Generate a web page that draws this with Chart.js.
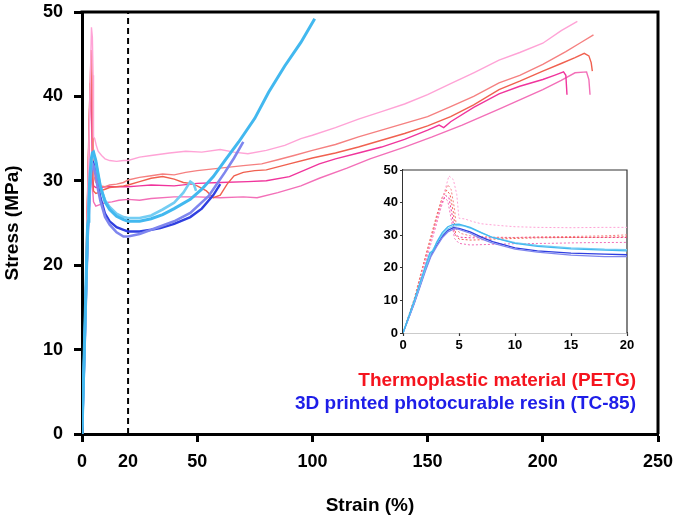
<!DOCTYPE html>
<html>
<head>
<meta charset="utf-8">
<script src="https://cdn.jsdelivr.net/npm/chart.js"></script>
<style>
  body { margin: 0; background: #fff; }
  #wrap { position: relative; width: 676px; height: 520px; }
  #mainChart { position: absolute; left: 0; top: 0; }
  #insetChart { position: absolute; left: 370px; top: 160px; }
</style>
</head>
<body>
<div id="wrap">
  <canvas id="mainChart" width="676" height="520"></canvas>
  <canvas id="insetChart" width="265" height="200"></canvas>
</div>
<script>
// tick labels
const xTicks = [0, 20, 50, 100, 150, 200, 250];
const insetXTicks = [0, 5, 10, 15, 20];
const refLineX = 20;

// PETG curves (strain %, stress MPa)
const petgAStrain = [0, 1, 2, 3, 3.6, 4.1, 4.5, 4.8, 5.0, 5.5, 6.2, 7, 8.5, 10, 12, 15, 18, 20, 25, 30, 38, 45, 52, 60, 66, 72, 80, 88, 95, 100, 110, 120, 130, 140, 150, 160, 170, 181, 190, 200, 208, 215];
const petgAStress = [0, 9.5, 22, 34, 42, 48.2, 47.0, 42.5, 35.2, 35.0, 34.2, 33.5, 33.0, 32.6, 32.4, 32.3, 32.4, 32.4, 32.8, 33.0, 33.3, 33.5, 33.4, 33.7, 33.4, 33.2, 33.6, 34.2, 35.0, 35.4, 36.3, 37.3, 38.2, 39.1, 40.2, 41.5, 42.8, 44.3, 45.2, 46.3, 47.8, 48.9];

const petgBStrain = [0, 1, 2, 3, 3.5, 4.0, 4.3, 4.6, 4.8, 5.2, 6, 7, 8, 10, 12, 15, 18, 20, 25, 30, 35, 40, 45, 50, 60, 70, 78, 85, 92, 100, 110, 120, 130, 140, 150, 160, 170, 181, 190, 200, 210, 216, 222];
const petgBStress = [0, 10, 23, 35, 41.5, 45.5, 44, 38, 31.5, 30.5, 29.8, 29.6, 29.4, 29.3, 29.5, 29.6, 29.8, 30.1, 30.4, 30.6, 30.8, 30.7, 31.0, 31.2, 31.5, 31.8, 32.0, 32.5, 33.0, 33.6, 34.3, 35.2, 36.0, 36.8, 37.6, 38.8, 40.0, 41.6, 42.5, 43.8, 45.3, 46.3, 47.3];

const petgCStrain = [0, 1, 2, 3, 3.5, 3.9, 4.2, 4.5, 4.7, 5.0, 6, 7, 8, 10, 12, 15, 18, 20, 25, 30, 35, 40, 44, 47, 50, 54, 57, 60, 63, 66, 70, 75, 80, 90, 100, 110, 120, 130, 140, 150, 160, 170, 181, 190, 200, 208, 214, 218, 220, 221, 221.5];
const petgCStress = [0, 10.5, 23.5, 36, 41.5, 43.8, 42.5, 37, 30, 28.8, 28.5, 28.6, 28.8, 29.0, 29.2, 29.3, 29.4, 29.5, 29.9, 30.3, 30.5, 30.2, 29.8, 29.7, 29.4, 28.8, 28.0, 28.3, 29.6, 30.6, 31.0, 31.2, 31.3, 32.0, 32.7, 33.3, 34.0, 34.8, 35.6, 36.5, 37.6, 39.0, 40.8, 41.8, 43.0, 43.9, 44.6, 45.1, 44.8, 44.0, 43.0];

const petgDStrain = [0, 1, 2, 3, 3.4, 3.8, 4.1, 4.4, 4.6, 5.0, 6, 8, 10, 12, 15, 18, 20, 25, 30, 40, 50, 60, 72, 80, 90, 103, 110, 120, 130, 140, 150, 155, 157, 160, 170, 181, 190, 200, 205, 209, 210, 210.5];
const petgDStress = [0, 10, 22.5, 35, 39.5, 42.2, 41.5, 36, 30.5, 29.4, 29.2, 29.2, 29.3, 29.3, 29.3, 29.3, 29.3, 29.4, 29.5, 29.4, 29.7, 29.8, 29.9, 30.0, 30.5, 32.0, 32.6, 33.3, 34.0, 34.9, 36.0, 36.6, 36.3, 37.0, 38.7, 40.3, 41.2, 42.0, 42.5, 42.9, 42.5, 40.2];

const petgEStrain = [0, 1, 2, 3, 3.4, 3.7, 4.0, 4.3, 4.6, 5.0, 6, 8, 10, 13, 16, 20, 25, 30, 40, 50, 60, 70, 76, 85, 95, 103, 115, 125, 140, 152, 165, 181, 190, 200, 208, 214, 219, 220, 220.5];
const petgEStress = [0, 9.5, 21.5, 33.5, 38.5, 41.5, 40.5, 35, 29, 27.5, 27.0, 27.2, 27.4, 27.5, 27.7, 27.8, 27.7, 27.9, 28.1, 28.1, 28.0, 28.1, 28.0, 28.6, 29.4, 30.3, 31.5, 32.6, 34.0, 35.2, 36.6, 38.5, 39.6, 40.8, 41.9, 42.8, 42.9, 42.0, 40.2];

// TC-85 curves
const tcAStrain = [0, 1, 2, 2.4, 2.7, 3, 3.5, 4, 4.5, 5, 6, 7, 8, 10, 12, 15, 18, 20, 25, 30, 35, 40, 47, 52, 57, 62, 68, 75, 81, 88, 95, 101];
const tcAStress = [0, 10, 20.5, 24.6, 25.2, 27.8, 30.8, 32.6, 33.3, 33.4, 32.4, 30.8, 29.3, 27.5, 26.6, 25.8, 25.4, 25.2, 25.2, 25.5, 26.0, 26.7, 27.8, 29.0, 30.5, 32.4, 34.6, 37.4, 40.5, 43.6, 46.4, 49.2];

const tcBStrain = [0, 1, 2, 2.5, 3, 3.5, 4, 4.5, 5, 5.5, 6, 7, 8, 10, 12, 15, 18, 20, 25, 30, 35, 40, 44, 47, 48.5, 49.5];
const tcBStress = [0, 9.5, 19.8, 24.5, 27.5, 30.2, 32.0, 32.8, 33.0, 32.8, 32.2, 30.7, 29.3, 27.7, 26.9, 26.1, 25.7, 25.6, 25.6, 25.9, 26.6, 27.4, 28.6, 29.9, 29.6, 28.8];

const tcCStrain = [0, 1, 2, 2.5, 3, 3.5, 4, 4.6, 5, 6, 7, 8, 10, 12, 15, 18, 20, 25, 30, 35, 40, 47, 55, 62, 66, 70];
const tcCStress = [0, 9, 19, 23.5, 26.5, 29.2, 31.0, 32.0, 31.8, 30.6, 28.9, 27.6, 25.7, 24.8, 23.9, 23.4, 23.4, 23.7, 24.2, 24.7, 25.2, 26.2, 28.2, 31.0, 32.7, 34.6];

const tcDStrain = [0, 1, 2, 2.5, 3, 3.5, 4, 4.5, 5, 6, 7, 8, 10, 12, 15, 18, 20, 25, 30, 34, 40, 47, 52, 57, 60];
const tcDStress = [0, 9.2, 19.5, 24, 27, 29.6, 31.5, 32.3, 32.1, 31.0, 29.4, 28.0, 26.1, 25.2, 24.5, 24.2, 24.0, 24.0, 24.2, 24.4, 24.9, 25.7, 26.7, 28.3, 29.6];

const pts = (xs, ys) => xs.map((x, i) => ({ x: x, y: ys[i] }));

// blue first so it is drawn on top
const curves = [
    { xs: tcAStrain, ys: tcAStress, color: '#42b8ef', w: 3, petg: false },
    { xs: tcBStrain, ys: tcBStress, color: '#74cdf3', w: 2.6, petg: false },
    { xs: tcCStrain, ys: tcCStress, color: '#7f86ee', w: 2.6, petg: false },
    { xs: tcDStrain, ys: tcDStress, color: '#2f3fe0', w: 2.4, petg: false },
    { xs: petgAStrain, ys: petgAStress, color: '#ffa3d6', w: 1.4, petg: true },
    { xs: petgBStrain, ys: petgBStress, color: '#f58080', w: 1.4, petg: true },
    { xs: petgCStrain, ys: petgCStress, color: '#f0604f', w: 1.4, petg: true },
    { xs: petgDStrain, ys: petgDStress, color: '#f0349c', w: 1.4, petg: true },
    { xs: petgEStrain, ys: petgEStress, color: '#f36fb8', w: 1.4, petg: true }
];

function makeDatasets(inset) {
    return curves.map(c => ({
        data: pts(c.xs, c.ys),
        showLine: true,
        borderColor: c.color,
        borderWidth: inset ? (c.petg ? 1 : 1.3) : c.w,
        borderDash: inset && c.petg ? [2, 2] : [],
        pointRadius: 0,
        tension: 0
    }));
}

const font = '"Liberation Sans", Arial, sans-serif';

// fixed axis boxes, no extra label overflow padding
function fixBox(size, horizontal) {
    return s => {
        if (horizontal) s.height = size; else s.width = size;
        s.paddingTop = 0; s.paddingBottom = 0; s.paddingLeft = 0; s.paddingRight = 0;
    };
}

const framePlugin = {
    id: 'frame',
    beforeDatasetsDraw(chart, args, opts) {
        const a = chart.chartArea;
        const ctx = chart.ctx;
        ctx.save();
        if (opts.fill) {
            ctx.fillStyle = '#fff';
            ctx.fillRect(a.left, a.top, a.right - a.left, a.bottom - a.top);
        }
        ctx.strokeStyle = opts.color;
        ctx.lineWidth = opts.width;
        ctx.beginPath();
        ctx.moveTo(a.left - opts.width / 2, a.top);
        ctx.lineTo(a.right, a.top);
        ctx.lineTo(a.right, a.bottom);
        ctx.stroke();
        ctx.restore();
    }
};

const labelPlugin = {
    id: 'labels',
    afterDraw(chart) {
        const ctx = chart.ctx;
        ctx.save();
        ctx.font = 'bold 19px ' + font;
        ctx.textAlign = 'right';
        ctx.textBaseline = 'middle';
        ctx.fillStyle = '#f5141e';
        ctx.fillText('Thermoplastic material (PETG)', 636, 381);
        ctx.fillStyle = '#1e1ee8';
        ctx.fillText('3D printed photocurable resin (TC-85)', 636, 404);
        ctx.restore();
    }
};

const mainSets = makeDatasets(false);
mainSets.push({
    data: [{ x: refLineX, y: 0 }, { x: refLineX, y: 50 }],
    showLine: true,
    borderColor: '#000',
    borderWidth: 2,
    borderDash: [6, 4],
    pointRadius: 0
});

new Chart(document.getElementById('mainChart'), {
    type: 'scatter',
    data: { datasets: mainSets },
    plugins: [framePlugin, labelPlugin],
    options: {
        responsive: false,
        animation: false,
        events: [],
        layout: { padding: { top: 12, right: 18, left: 0, bottom: 0 } },
        scales: {
            x: {
                type: 'linear',
                min: 0,
                max: 250,
                afterBuildTicks: s => { s.ticks = xTicks.map(v => ({ value: v })); },
                afterFit: fixBox(86, true),
                ticks: { color: '#000', font: { family: font, size: 18, weight: 'bold' }, padding: 9, maxRotation: 0, autoSkip: false },
                grid: {
                    drawOnChartArea: false,
                    tickLength: 8,
                    tickWidth: 3,
                    tickColor: c => (c.tick && c.tick.value === refLineX) ? 'rgba(0,0,0,0)' : '#000'
                },
                border: { width: 3, color: '#000' },
                title: { display: true, text: 'Strain (%)', color: '#000', font: { family: font, size: 19, weight: 'bold' }, padding: { top: 0, bottom: 3 } }
            },
            y: {
                min: 0,
                max: 50,
                afterFit: fixBox(82, false),
                ticks: { stepSize: 10, color: '#000', font: { family: font, size: 18, weight: 'bold' }, padding: 11 },
                grid: { drawOnChartArea: false, tickLength: 8, tickWidth: 3, tickColor: '#000' },
                border: { width: 3, color: '#000' },
                title: { display: true, text: 'Stress (MPa)', color: '#000', font: { family: font, size: 19, weight: 'bold' }, padding: { top: 1, bottom: 0 } }
            }
        },
        plugins: {
            legend: { display: false },
            tooltip: { enabled: false },
            frame: { color: '#000', width: 3, fill: false }
        }
    }
});

new Chart(document.getElementById('insetChart'), {
    type: 'scatter',
    data: { datasets: makeDatasets(true) },
    plugins: [framePlugin],
    options: {
        responsive: false,
        animation: false,
        events: [],
        layout: { padding: { top: 10, right: 8, left: 0, bottom: 0 } },
        scales: {
            x: {
                type: 'linear',
                min: 0,
                max: 20,
                afterBuildTicks: s => { s.ticks = insetXTicks.map(v => ({ value: v })); },
                afterFit: fixBox(27, true),
                ticks: { color: '#000', font: { family: font, size: 13, weight: 'bold' }, padding: 2, maxRotation: 0 },
                grid: { drawOnChartArea: false, tickLength: 3, tickWidth: 1.2, tickColor: '#333' },
                border: { width: 1.2, color: '#333' }
            },
            y: {
                min: 0,
                max: 50,
                afterFit: fixBox(33, false),
                ticks: { stepSize: 10, color: '#000', font: { family: font, size: 13, weight: 'bold' }, padding: 2 },
                grid: { drawOnChartArea: false, tickLength: 3, tickWidth: 1.2, tickColor: '#333' },
                border: { width: 1.2, color: '#333' }
            }
        },
        plugins: {
            legend: { display: false },
            tooltip: { enabled: false },
            frame: { color: '#333', width: 1.2, fill: true }
        }
    }
});
</script>
</body>
</html>
